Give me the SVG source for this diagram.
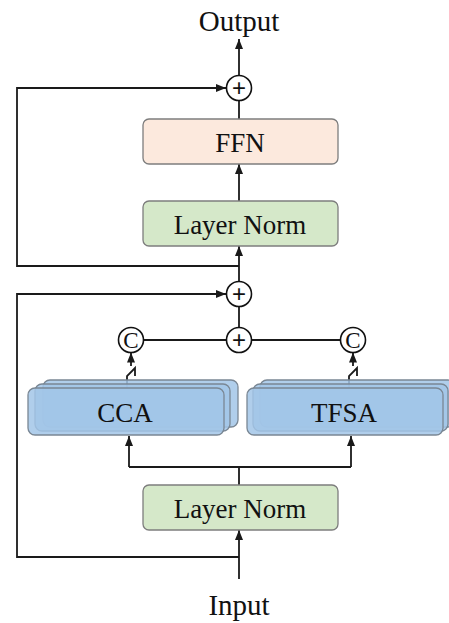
<svg xmlns="http://www.w3.org/2000/svg" width="449" height="623" viewBox="0 0 449 623">
  <style>
    .lbl { font-family: "Liberation Serif", "Times New Roman", serif; font-size: 27px; fill: #111; text-anchor: middle; }
    .io { font-family: "Liberation Serif", "Times New Roman", serif; font-size: 29px; fill: #111; text-anchor: middle; }
    .op { font-family: "Liberation Sans", Arial, sans-serif; font-size: 24px; fill: #111; text-anchor: middle; }
    .cat { font-family: "Liberation Serif", "Times New Roman", serif; font-size: 23px; fill: #111; text-anchor: middle; }
    .ln { fill: #d5e8c9; stroke: #7d7d7d; stroke-width: 1.3; }
    .ffn { fill: #fce9dd; stroke: #7d7d7d; stroke-width: 1.3; }
    .att { fill: #a2c6e8; fill-opacity: 0.85; stroke: #7a8794; stroke-width: 1.3; }
    .node { fill: #fff; stroke: #111; stroke-width: 1.6; }
    .wire { fill: none; stroke: #1a1a1a; stroke-width: 1.8; }
    .arr { marker-end: url(#tip); }
  </style>
  <defs>
    <marker id="tip" markerUnits="userSpaceOnUse" markerWidth="10" markerHeight="10" viewBox="0 0 10 10" refX="10" refY="5" orient="auto">
      <path d="M0 1 L10 5 L0 9 Z" fill="#1a1a1a"/>
    </marker>
  </defs>

  <!-- connectors -->
  <g id="connectors">
    <path class="wire arr" d="M239 75 V39"/>
    <path class="wire" d="M239 119 V100.5"/>
    <path class="wire arr" d="M239 266 H17 V88 H226"/>
    <path class="wire arr" d="M239 201 V164"/>
    <path class="wire arr" d="M239 281 V246"/>
    <path class="wire arr" d="M239 557 H17 V294 H226"/>
    <path class="wire" d="M239 306.5 V327.5"/>
    <path class="wire" d="M143.5 340 H226.5 M251.5 340 H340.5"/>
    <!-- gated outputs of the attention blocks -->
    <path class="wire" d="M127 389 V376 L135 368 V376"/>
    <path class="wire arr" d="M131 366 V352.5"/>
    <path class="wire" d="M349 389 V376 L357 368 V376"/>
    <path class="wire arr" d="M353 366 V352.5"/>
    <!-- branch into CCA / TFSA -->
    <path class="wire" d="M239 485 V467 M129 467 H351"/>
    <path class="wire arr" d="M129 467 V436"/>
    <path class="wire arr" d="M351 467 V436"/>
    <path class="wire arr" d="M239 579 V530"/>
  </g>

  <g id="add-out">
    <circle class="node" cx="239" cy="88" r="12.5"/>
    <text class="op" x="239" y="96.4">+</text>
  </g>
  <g id="ffn">
    <rect class="ffn" x="143" y="119" width="195" height="45" rx="6"/>
    <text class="lbl" x="240" y="152">FFN</text>
  </g>
  <g id="norm-top">
    <rect class="ln" x="143" y="201" width="195" height="45" rx="6"/>
    <text class="lbl" x="240" y="234">Layer Norm</text>
  </g>
  <g id="add-mid">
    <circle class="node" cx="239" cy="294" r="12.5"/>
    <text class="op" x="239" y="302.4">+</text>
  </g>
  <g id="add-branch">
    <circle class="node" cx="239" cy="340" r="12.5"/>
    <text class="op" x="239" y="348.4">+</text>
  </g>
  <g id="concat-cca">
    <circle class="node" cx="131" cy="340" r="12.5"/>
    <text class="cat" x="131" y="348">C</text>
  </g>
  <g id="concat-tfsa">
    <circle class="node" cx="353" cy="340" r="12.5"/>
    <text class="cat" x="353" y="348">C</text>
  </g>
  <g id="cca">
    <rect class="att" x="43" y="380" width="195" height="47" rx="7"/>
    <rect class="att" x="35" y="384" width="195" height="47" rx="7"/>
    <rect class="att" x="28" y="388" width="196" height="47" rx="7"/>
    <text class="lbl" x="125" y="422">CCA</text>
  </g>
  <g id="tfsa">
    <rect class="att" x="260" y="380" width="195" height="47" rx="7"/>
    <rect class="att" x="253" y="384" width="195" height="47" rx="7"/>
    <rect class="att" x="247" y="388" width="196" height="47" rx="7"/>
    <text class="lbl" x="344" y="422">TFSA</text>
  </g>
  <g id="norm-bottom">
    <rect class="ln" x="143" y="485" width="195" height="45" rx="6"/>
    <text class="lbl" x="240" y="518">Layer Norm</text>
  </g>
  <g id="output">
    <text class="io" x="239" y="31">Output</text>
  </g>
  <g id="input">
    <text class="io" x="239" y="615">Input</text>
  </g>
</svg>
